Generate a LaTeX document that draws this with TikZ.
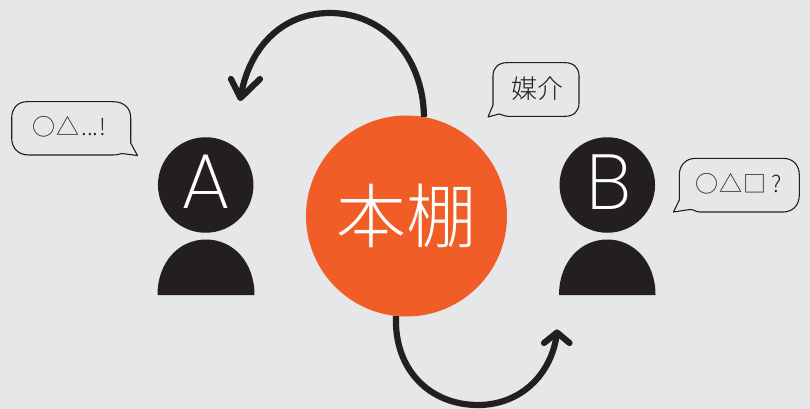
\documentclass[tikz,border=0pt]{standalone}
\usepackage{fontspec}
\newfontfamily\cjkfont{Noto Sans CJK JP Light}
\newfontfamily\latinlight{Poppins ExtraLight}
\definecolor{bgc}{HTML}{E6E7E8}
\definecolor{ink}{HTML}{231F20}
\definecolor{hot}{HTML}{F15D27}
\tikzset{
  head/.style={circle,fill=ink,draw=none,minimum size=95.5pt,inner sep=0pt},
  letter/.style={text=white,font=\latinlight\fontsize{78}{78}\selectfont,inner sep=0pt},
  hub/.style={circle,fill=hot,draw=none,minimum size=201pt,inner sep=0pt,text=white,font=\cjkfont\fontsize{70}{70}\selectfont},
  body/.style={fill=ink,draw=none},
  bubble/.style={draw=ink,line width=1.1pt,line join=round,fill=none},
  say/.style={text=ink,inner sep=0pt,font=\cjkfont\fontsize{23}{23}\selectfont},
  flow/.style={draw=ink,line width=6.2pt,line cap=butt},
  barb/.style={draw=ink,line width=6.2pt,line cap=round,line join=round},
}
\begin{document}
\begin{tikzpicture}[x=1pt,y=-1pt]
\path[use as bounding box,fill=bgc] (0,0) rectangle (810,409);
% people
\node[head] (headA) at (205.7,185) {};
\node[head] (headB) at (607.3,185) {};
\node[letter] (labelA) at (205.7,182) {A};
\node[letter] (labelB) at (609,182) {B};
\path[body] (157.5,295) .. controls (157.5,262) and (179,239.5) .. (206,239.5) .. controls (233,239.5) and (254.5,262) .. (254.5,295) -- cycle;
\path[body] (559,295) .. controls (559,262) and (580.5,239.5) .. (607.3,239.5) .. controls (634,239.5) and (655.5,262) .. (655.5,295) -- cycle;
% connectors
\coordinate (tipA) at (240.5,98);
\coordinate (wingA1) at (231,79);
\coordinate (wingA2) at (260,79);
\coordinate (tipB) at (557,332.5);
\coordinate (wingB1) at (544,343);
\coordinate (wingB2) at (569.5,343);
\node[hub] (hub) at (406.5,216) {本棚};
\draw[flow] (hub.80) .. controls (423,55) and (382,13) .. (330,13) .. controls (280,13) and (248,50) .. (tipA);
\draw[barb] (wingA1) -- (tipA) -- (wingA2);
\draw[flow] (hub.264) .. controls (394,370) and (430,405) .. (478,405) .. controls (520,405) and (552,375) .. (tipB);
\draw[barb] (wingB1) -- (tipB) -- (wingB2);
% bubbles
\draw[bubble] (27,101.7) -- (113,101.7) .. controls (124,101.7) and (130.7,108) .. (130.7,118) -- (130.7,143) -- (137.5,155.5) -- (122,153.5) .. controls (118,154.5) and (117,155) .. (112,155) -- (29,155) .. controls (18,155) and (11.7,148) .. (11.7,138) -- (11.7,118) .. controls (11.7,108) and (18,101.7) .. (27,101.7) -- cycle;
\node[say,anchor=west] (sayA) at (32.2,127) {○\kern1pt△\kern2pt...\kern1pt!};
\draw[bubble] (507,62.7) -- (565,62.7) .. controls (574,62.7) and (579,68) .. (579,76) -- (579,103) .. controls (579,111) and (574,116.3) .. (565,116.3) -- (508,116.3) .. controls (503,116.3) and (503,114) .. (499,114) -- (488,117) -- (493,105) -- (493,76) .. controls (493,68) and (498,62.7) .. (507,62.7) -- cycle;
\node[say,font=\cjkfont\fontsize{26}{26}\selectfont] (sayHub) at (537.5,89) {媒介};
\draw[bubble] (696,158.3) -- (783,158.3) .. controls (793,158.3) and (799.3,165) .. (799.3,175) -- (799.3,195) .. controls (799.3,205) and (793,212) .. (783,212) -- (700,212) .. controls (695,212) and (695,209.5) .. (690,209.5) -- (673.5,212) -- (679.3,200) -- (679.3,175) .. controls (679.3,165) and (686,158.3) .. (696,158.3) -- cycle;
\node[say,anchor=west] (sayB) at (695.2,184) {○\kern1pt△\kern1pt□\kern5pt?};
\end{tikzpicture}
\end{document}
